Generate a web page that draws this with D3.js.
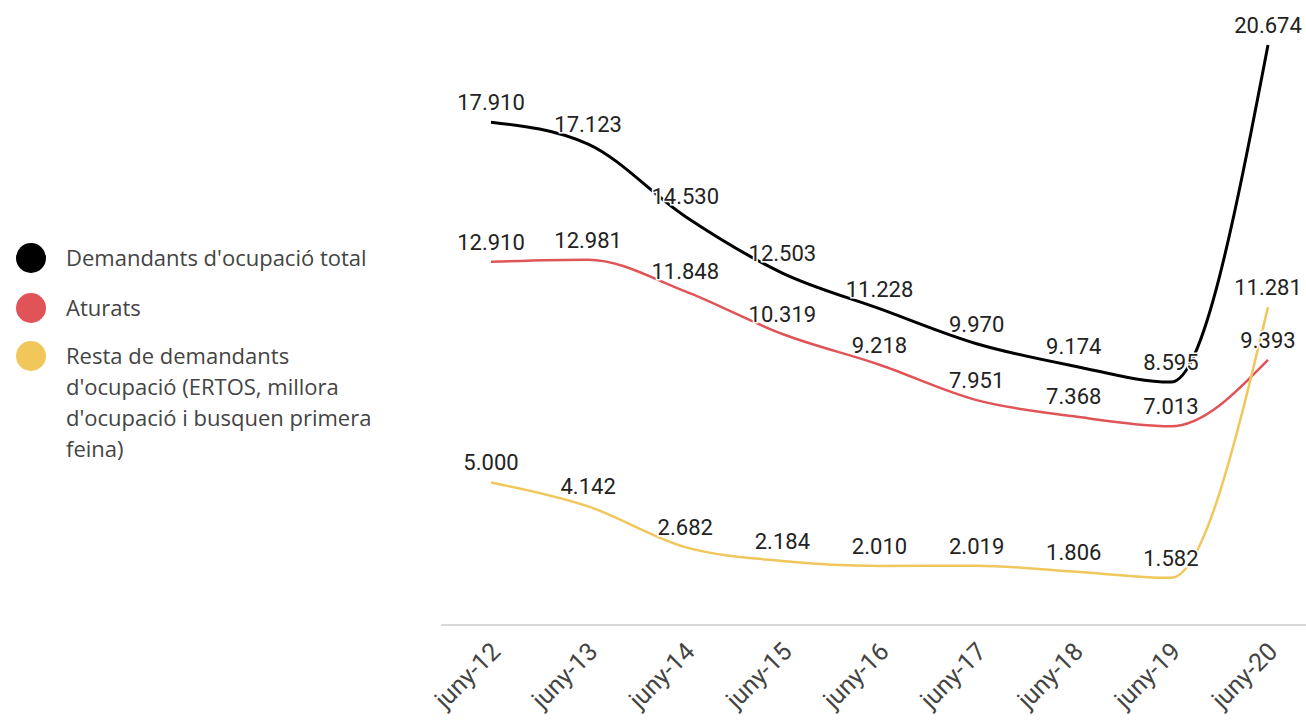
<!DOCTYPE html>
<html>
<head>
<meta charset="utf-8">
<script src="https://cdn.jsdelivr.net/npm/d3@7"></script>
<style>
  body { margin: 0; background: #fff; }
</style>
</head>
<body>
<div id="chart"></div>
<script>
// categories and values (thousands separator is "." in the source)
const years = ["juny-12", "juny-13", "juny-14", "juny-15", "juny-16", "juny-17", "juny-18", "juny-19", "juny-20"];
const total = [17910, 17123, 14530, 12503, 11228, 9970, 9174, 8595, 20674];
const aturats = [12910, 12981, 11848, 10319, 9218, 7951, 7368, 7013, 9393];
const resta = [5000, 4142, 2682, 2184, 2010, 2019, 1806, 1582, 11281];

const seriesNames = [
    "Demandants d'ocupació total",
    "Aturats",
    "Resta de demandants d'ocupació (ERTOS, millora d'ocupació i busquen primera feina)"
];
const legendLines = [
    ["Demandants d'ocupació total"],
    ["Aturats"],
    ["Resta de demandants", "d'ocupació (ERTOS, millora", "d'ocupació i busquen primera", "feina)"]
];
const colors = ["#000000", "#e05457", "#f1c75c"];

const width = 1306, height = 724;

const svg = d3.select("#chart")
    .append("svg")
    .attr("width", width)
    .attr("height", height);

const x = d3.scalePoint()
    .domain(years)
    .range([491, 1268]);

const y = d3.scaleLinear()
    .domain([0, 20674])
    .range([622, 45]);

const fmt = v => d3.format(",")(v).replace(/,/g, ".");

// baseline
svg.append("line")
    .attr("x1", 441).attr("x2", width)
    .attr("y1", 625).attr("y2", 625)
    .attr("stroke", "#d9d9d9")
    .attr("stroke-width", 2);

// x labels, rotated
svg.append("g")
    .selectAll("text")
    .data(years)
    .join("text")
    .attr("transform", d => `translate(${x(d) + 11}, 653) rotate(-45)`)
    .attr("text-anchor", "end")
    .style("font-family", "Roboto, Arial, sans-serif")
    .style("font-size", "25px")
    .style("fill", "#444")
    .text(d => d);

const line = d3.line()
    .x((d, i) => x(years[i]))
    .y(d => y(d))
    .curve(d3.curveMonotoneX);

const series = [total, aturats, resta];
const widths = [3, 2.5, 2.5];

// lines
series.forEach((s, k) => {
    svg.append("path")
        .datum(s)
        .attr("fill", "none")
        .attr("stroke", colors[k])
        .attr("stroke-width", widths[k])
        .attr("d", line);
});

// data labels
series.forEach((s, k) => {
    svg.append("g")
        .selectAll("text")
        .data(s)
        .join("text")
        .attr("x", (d, i) => x(years[i]))
        .attr("y", d => y(d) - 12)
        .attr("text-anchor", "middle")
        .style("font-family", "Roboto, Arial, sans-serif")
        .style("font-size", "22px")
        .style("fill", "#222")
        .style("stroke", "#fff")
        .style("stroke-width", 3)
        .style("paint-order", "stroke")
        .text(d => fmt(d));
});

// legend
const legendY = [258, 308, 356];
const legend = svg.append("g");
legendLines.forEach((lines, k) => {
    legend.append("circle")
        .attr("cx", 31)
        .attr("cy", legendY[k])
        .attr("r", 15)
        .attr("fill", colors[k]);
    const t = legend.append("text")
        .style("font-family", "'Open Sans', sans-serif")
        .style("font-size", "22px")
        .style("fill", "#444");
    t.append("title").text(seriesNames[k]);
    lines.forEach((l, j) => {
        t.append("tspan")
            .attr("x", 66)
            .attr("y", legendY[k] + j * 31)
            .attr("dy", "0.35em")
            .text(l);
    });
});
</script>
</body>
</html>
